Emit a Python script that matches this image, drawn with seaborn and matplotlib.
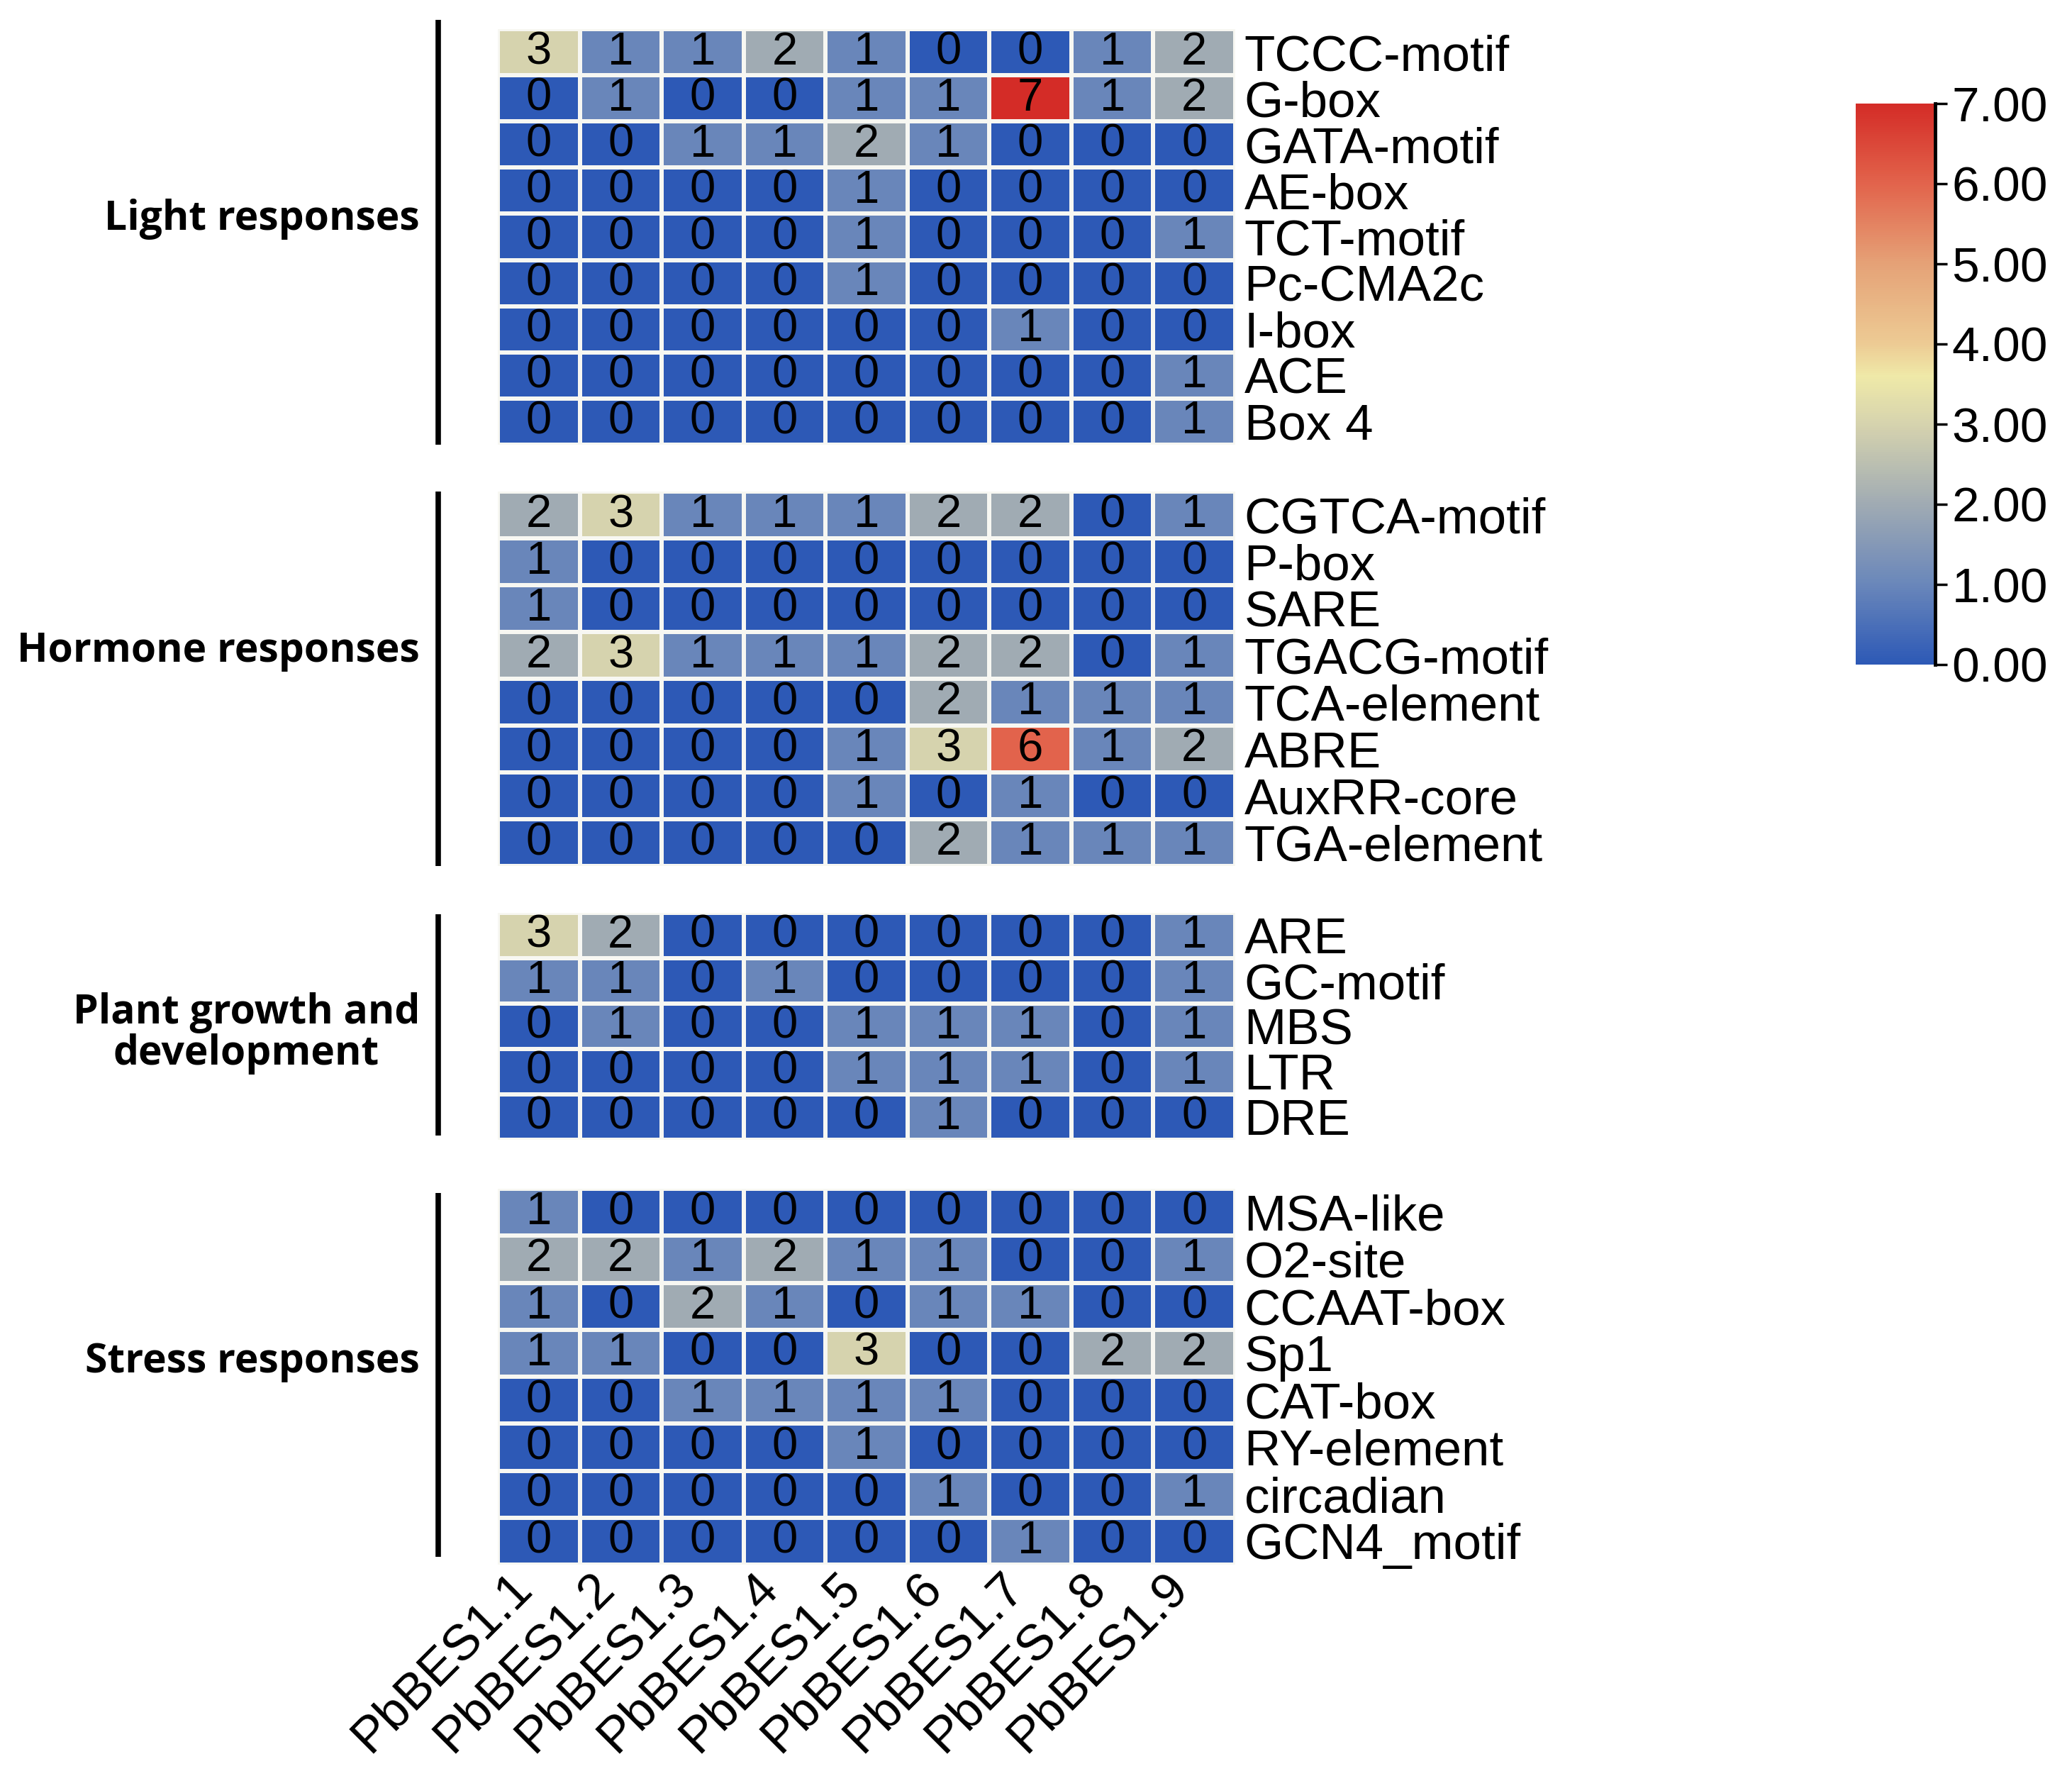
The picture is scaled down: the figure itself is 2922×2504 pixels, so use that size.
import numpy as np
import pandas as pd
import matplotlib
matplotlib.use("Agg")
import matplotlib.pyplot as plt
import seaborn as sns
from matplotlib.colors import LinearSegmentedColormap
from matplotlib.lines import Line2D
from matplotlib.ticker import FormatStrFormatter
from matplotlib.transforms import ScaledTranslation

# Data: cis-element counts per gene, grouped by function
GENES = ["PbBES1.1", "PbBES1.2", "PbBES1.3", "PbBES1.4", "PbBES1.5",
         "PbBES1.6", "PbBES1.7", "PbBES1.8", "PbBES1.9"]

LIGHT_ROWS = ["TCCC-motif", "G-box", "GATA-motif", "AE-box", "TCT-motif",
              "Pc-CMA2c", "I-box", "ACE", "Box 4"]
LIGHT_VALUES = [
    [3, 1, 1, 2, 1, 0, 0, 1, 2],
    [0, 1, 0, 0, 1, 1, 7, 1, 2],
    [0, 0, 1, 1, 2, 1, 0, 0, 0],
    [0, 0, 0, 0, 1, 0, 0, 0, 0],
    [0, 0, 0, 0, 1, 0, 0, 0, 1],
    [0, 0, 0, 0, 1, 0, 0, 0, 0],
    [0, 0, 0, 0, 0, 0, 1, 0, 0],
    [0, 0, 0, 0, 0, 0, 0, 0, 1],
    [0, 0, 0, 0, 0, 0, 0, 0, 1],
]

HORMONE_ROWS = ["CGTCA-motif", "P-box", "SARE", "TGACG-motif", "TCA-element",
                "ABRE", "AuxRR-core", "TGA-element"]
HORMONE_VALUES = [
    [2, 3, 1, 1, 1, 2, 2, 0, 1],
    [1, 0, 0, 0, 0, 0, 0, 0, 0],
    [1, 0, 0, 0, 0, 0, 0, 0, 0],
    [2, 3, 1, 1, 1, 2, 2, 0, 1],
    [0, 0, 0, 0, 0, 2, 1, 1, 1],
    [0, 0, 0, 0, 1, 3, 6, 1, 2],
    [0, 0, 0, 0, 1, 0, 1, 0, 0],
    [0, 0, 0, 0, 0, 2, 1, 1, 1],
]

GROWTH_ROWS = ["ARE", "GC-motif", "MBS", "LTR", "DRE"]
GROWTH_VALUES = [
    [3, 2, 0, 0, 0, 0, 0, 0, 1],
    [1, 1, 0, 1, 0, 0, 0, 0, 1],
    [0, 1, 0, 0, 1, 1, 1, 0, 1],
    [0, 0, 0, 0, 1, 1, 1, 0, 1],
    [0, 0, 0, 0, 0, 1, 0, 0, 0],
]

STRESS_ROWS = ["MSA-like", "O2-site", "CCAAT-box", "Sp1", "CAT-box",
               "RY-element", "circadian", "GCN4_motif"]
STRESS_VALUES = [
    [1, 0, 0, 0, 0, 0, 0, 0, 0],
    [2, 2, 1, 2, 1, 1, 0, 0, 1],
    [1, 0, 2, 1, 0, 1, 1, 0, 0],
    [1, 1, 0, 0, 3, 0, 0, 2, 2],
    [0, 0, 1, 1, 1, 1, 0, 0, 0],
    [0, 0, 0, 0, 1, 0, 0, 0, 0],
    [0, 0, 0, 0, 0, 1, 0, 0, 1],
    [0, 0, 0, 0, 0, 0, 1, 0, 0],
]

GROUP_LABELS = ["Light responses", "Hormone responses",
                "Plant growth and\ndevelopment", "Stress responses"]

plt.rcParams['font.family'] = ['Liberation Sans', 'DejaVu Sans']

W, H = 2922, 2504
fig = plt.figure(figsize=(W / 100, H / 100), dpi=100)


def px_axes(x0, y0, x1, y1):
    """Add axes from pixel box (origin top-left)."""
    return fig.add_axes([x0 / W, 1 - y1 / H, (x1 - x0) / W, (y1 - y0) / H])


cmap = LinearSegmentedColormap.from_list("cis", [
    (0.0, "#2d59b6"),
    (1 / 7, "#6a87ba"),
    (2 / 7, "#a0abb3"),
    (3 / 7, "#d6d3ae"),
    (3.6 / 7, "#efe9a8"),
    (4 / 7, "#edcb94"),
    (5 / 7, "#e5a277"),
    (6 / 7, "#e2644c"),
    (1.0, "#d42c27"),
])

groups = [
    (LIGHT_ROWS, LIGHT_VALUES, (41, 627), 309, (28, 627)),
    (HORMONE_ROWS, HORMONE_VALUES, (693, 1221), 918, (693, 1221)),
    (GROWTH_ROWS, GROWTH_VALUES, (1287, 1607), 1457, (1289, 1601)),
    (STRESS_ROWS, STRESS_VALUES, (1676, 2206), 1920, (1682, 2195)),
]

HM_LEFT, HM_RIGHT = 702, 1742
cax = px_axes(2617, 146, 2729, 937)

for i, (rows, values, (top, bottom), label_y, (bar_top, bar_bot)) in enumerate(groups):
    ax = px_axes(HM_LEFT, top, HM_RIGHT, bottom)
    df = pd.DataFrame(values, index=rows, columns=GENES)
    sns.heatmap(df, ax=ax, cmap=cmap, vmin=0, vmax=7, annot=True, fmt="d",
                annot_kws={"color": "black", "fontsize": 47},
                linewidths=3, linecolor="#f7f7f2",
                cbar=(i == 0), cbar_ax=cax if i == 0 else None)
    ax.yaxis.tick_right()
    ax.set_yticks(np.arange(len(rows)) + 0.5)
    ax.set_yticklabels(rows, rotation=0, fontsize=51)
    ax.tick_params(axis='y', length=0, pad=9)
    ax.set_ylabel("")
    ax.set_xlabel("")
    if i < 3:
        ax.tick_params(axis='x', length=0, labelbottom=False)
    else:
        ax.set_xticklabels(GENES, rotation=45, ha='right', va='center',
                           rotation_mode='anchor', fontsize=51)
        ax.tick_params(axis='x', length=0, pad=16)
        shift = ScaledTranslation(-0.2, 0, fig.dpi_scale_trans)
        for lbl in ax.get_xticklabels():
            lbl.set_transform(lbl.get_transform() + shift)

    # black bracket bar and group label
    fig.add_artist(Line2D([618 / W, 618 / W], [1 - bar_top / H, 1 - bar_bot / H],
                          color='black', lw=5.5, solid_capstyle='butt'))
    fig.text(592 / W, 1 - label_y / H, GROUP_LABELS[i], ha='right', va='center',
             multialignment='center', fontsize=41, fontweight='bold',
             family=['Open Sans', 'DejaVu Sans'], linespacing=1.0)

# colorbar styling
cbar = getattr(cax.collections[0], 'colorbar', None)
cax.set_yticks(range(8))
cax.yaxis.set_major_formatter(FormatStrFormatter('%.2f'))
cax.tick_params(axis='y', labelsize=50, length=12, width=2.5, pad=5)
for spine in cax.spines.values():
    spine.set_visible(False)
if cbar is not None:
    cbar.outline.set_visible(False)
cax.plot([1, 1], [0, 1], transform=cax.transAxes, color='black', lw=3.5,
         clip_on=False)

fig.savefig("out.png", dpi=100)
